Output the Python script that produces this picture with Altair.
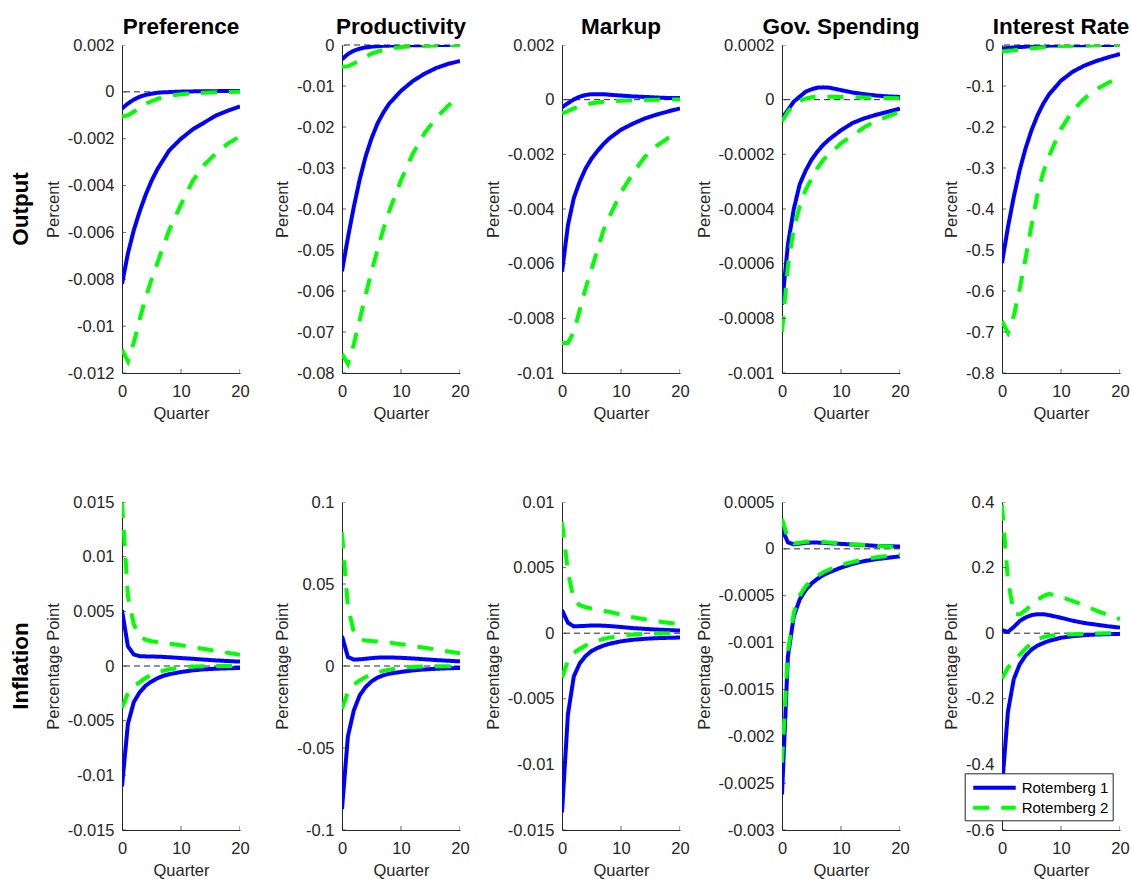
import altair as alt
import pandas as pd

FONT = "Liberation Sans"

QUARTERS = [0, 1, 2, 3, 4, 5, 6, 7, 8, 10, 12, 14, 16, 18, 20]
X_TICKS = [0, 10, 20]
SHOCKS = ["Preference", "Productivity", "Markup", "Gov. Spending", "Interest Rate"]
ROW_LABELS = ["Output", "Inflation"]
Y_TITLES = ["Percent", "Percentage Point"]
MODELS = ["Rotemberg 1", "Rotemberg 2"]
COLORS = ["#0000ff", "#00ff00"]

# ---------------- Output ----------------
PREF_OUT_R1_UP = [-0.00071, -0.0005, -0.00033, -0.00021, -0.00013, -0.00008, -0.00004, -0.00002, -0.00001, 0.00001, 0.00002, 0.00003, 0.00003, 0.00004, 0.00004]
PREF_OUT_R1_LO = [-0.0082, -0.0069, -0.0059, -0.0051, -0.0044, -0.0038, -0.0033, -0.0029, -0.0025, -0.0020, -0.0016, -0.0013, -0.0010, -0.0008, -0.00062]
PREF_OUT_R2_UP = [-0.00105, -0.001, -0.00085, -0.00066, -0.00051, -0.0004, -0.0003, -0.00023, -0.00017, -0.0001, -0.00006, -0.00004, -0.00002, -0.00001, 0.0]
PREF_OUT_R2_LO = [-0.0110, -0.0115, -0.0107, -0.0097, -0.0088, -0.0080, -0.0073, -0.0066, -0.0059, -0.0048, -0.0038, -0.0031, -0.0026, -0.0022, -0.0019]
PREF_OUT_TICKS = [-0.012, -0.01, -0.008, -0.006, -0.004, -0.002, 0, 0.002]

PROD_OUT_R1_UP = [-0.0035, -0.0022, -0.0014, -0.0009, -0.0006, -0.0004, -0.0003, -0.0002, -0.00015, -0.0001, -0.00006, -0.00004, -0.00002, -0.00001, 0.0]
PROD_OUT_R1_LO = [-0.0552, -0.0470, -0.0395, -0.0328, -0.0272, -0.0228, -0.0192, -0.0165, -0.0143, -0.0112, -0.0088, -0.0070, -0.0056, -0.0046, -0.0039]
PROD_OUT_R2_UP = [-0.0053, -0.0052, -0.0045, -0.0037, -0.0029, -0.0021, -0.0016, -0.0012, -0.0009, -0.0005, -0.0003, -0.0002, -0.0001, -0.00005, 0.0]
PROD_OUT_R2_LO = [-0.0753, -0.0778, -0.0730, -0.0670, -0.0610, -0.0553, -0.0500, -0.0450, -0.0405, -0.0330, -0.0265, -0.0215, -0.0177, -0.0148, -0.0125]
PROD_OUT_TICKS = [-0.08, -0.07, -0.06, -0.05, -0.04, -0.03, -0.02, -0.01, 0]

MARK_OUT_R1_UP = [-0.00028, -0.00013, 0.00001, 0.00011, 0.00017, 0.0002, 0.0002, 0.0002, 0.00018, 0.00015, 0.00012, 0.0001, 0.00008, 0.00006, 0.00006]
MARK_OUT_R1_LO = [-0.0063, -0.0046, -0.0036, -0.0030, -0.00252, -0.00216, -0.00188, -0.00163, -0.00142, -0.0011, -0.00088, -0.00069, -0.00055, -0.00043, -0.00032]
MARK_OUT_R2_UP = [-0.0005, -0.00042, -0.00032, -0.00024, -0.00018, -0.00013, -0.0001, -0.00008, -0.00006, -0.00004, -0.00002, -0.00001, 0.0, 0.00001, 0.00001]
MARK_OUT_R2_LO = [-0.0089, -0.0089, -0.0085, -0.0077, -0.0069, -0.0062, -0.0055, -0.0048, -0.0043, -0.0034, -0.0027, -0.0021, -0.0017, -0.0014, -0.0012]
MARK_OUT_TICKS = [-0.01, -0.008, -0.006, -0.004, -0.002, 0, 0.002]

GOV_OUT_R1_UP = [-0.000068, -0.000038, -0.000007, 0.000011, 0.000029, 0.000038, 0.000044, 0.000045, 0.000044, 0.000035, 0.000026, 0.00002, 0.000015, 0.000012, 0.00001]
GOV_OUT_R1_LO = [-0.00075, -0.00053, -0.00040, -0.00031, -0.00026, -0.00022, -0.00019, -0.000165, -0.000145, -0.000112, -0.000085, -0.000068, -0.000055, -0.000044, -0.000033]
GOV_OUT_R2_UP = [-0.00008, -0.000044, -0.00002, -0.000004, 0.000004, 0.000009, 0.000011, 0.000011, 0.000011, 0.00001, 0.000009, 0.000008, 0.000007, 0.000006, 0.000005]
GOV_OUT_R2_LO = [-0.00085, -0.00061, -0.00047, -0.00039, -0.00033, -0.00029, -0.00025, -0.00022, -0.00020, -0.00016, -0.00013, -0.00010, -0.000078, -0.00006, -0.000045]
GOV_OUT_TICKS = [-0.001, -0.0008, -0.0006, -0.0004, -0.0002, 0, 0.0002]

IR_OUT_R1_UP = [-0.009, -0.007, -0.006, -0.005, -0.004, -0.003, -0.0025, -0.002, -0.0015, -0.001, -0.0006, -0.0004, -0.0002, -0.0001, 0.0]
IR_OUT_R1_LO = [-0.532, -0.445, -0.370, -0.305, -0.252, -0.208, -0.172, -0.143, -0.120, -0.087, -0.065, -0.050, -0.039, -0.030, -0.022]
IR_OUT_R2_UP = [-0.016, -0.0145, -0.013, -0.011, -0.0095, -0.008, -0.0065, -0.0052, -0.0042, -0.0027, -0.0017, -0.001, -0.0006, -0.0003, -0.0002]
IR_OUT_R2_LO = [-0.673, -0.702, -0.660, -0.595, -0.520, -0.440, -0.365, -0.310, -0.270, -0.205, -0.160, -0.130, -0.108, -0.092, -0.080]
IR_OUT_TICKS = [-0.8, -0.7, -0.6, -0.5, -0.4, -0.3, -0.2, -0.1, 0]

# ---------------- Inflation ----------------
PREF_INF_R1_UP = [0.0051, 0.0018, 0.00105, 0.0009, 0.00088, 0.00087, 0.00085, 0.00083, 0.0008, 0.00073, 0.00066, 0.00058, 0.00051, 0.00045, 0.0004]
PREF_INF_R1_LO = [-0.0110, -0.0053, -0.0033, -0.0024, -0.0018, -0.00142, -0.00112, -0.0009, -0.00075, -0.00055, -0.0004, -0.0003, -0.00025, -0.00021, -0.00018]
PREF_INF_R2_UP = [0.0150, 0.0064, 0.0038, 0.0027, 0.0024, 0.00227, 0.0022, 0.00213, 0.00205, 0.0019, 0.00172, 0.00155, 0.00138, 0.0012, 0.00102]
PREF_INF_R2_LO = [-0.00385, -0.00248, -0.00187, -0.00147, -0.0011, -0.0008, -0.00058, -0.00043, -0.0003, -0.00013, -0.00005, -0.00002, -0.00001, 0.0, 0.0]
PREF_INF_TICKS = [-0.015, -0.01, -0.005, 0, 0.005, 0.01, 0.015]

PROD_INF_R1_UP = [0.0183, 0.0055, 0.0039, 0.0041, 0.0044, 0.0048, 0.0051, 0.0052, 0.0052, 0.0050, 0.0046, 0.0041, 0.0036, 0.0032, 0.0028]
PROD_INF_R1_LO = [-0.0872, -0.043, -0.0271, -0.0179, -0.0128, -0.0094, -0.0071, -0.0057, -0.0047, -0.0036, -0.0027, -0.0021, -0.0017, -0.0014, -0.0012]
PROD_INF_R2_UP = [0.0815, 0.036, 0.0208, 0.0165, 0.0155, 0.0152, 0.0150, 0.0147, 0.0143, 0.0133, 0.0122, 0.0111, 0.0100, 0.0089, 0.0078]
PROD_INF_R2_LO = [-0.0261, -0.0159, -0.0114, -0.0088, -0.0067, -0.0051, -0.0039, -0.003, -0.0022, -0.0012, -0.0006, -0.0003, -0.0002, -0.0001, 0.0]
PROD_INF_TICKS = [-0.1, -0.05, 0, 0.05, 0.1]

MARK_INF_R1_UP = [0.00176, 0.0008, 0.00052, 0.00054, 0.00056, 0.00059, 0.00059, 0.00057, 0.00055, 0.00047, 0.00039, 0.00033, 0.00028, 0.00024, 0.0002]
MARK_INF_R1_LO = [-0.01366, -0.0062, -0.0033, -0.0023, -0.00174, -0.00136, -0.00113, -0.00095, -0.00081, -0.00062, -0.0005, -0.00043, -0.00038, -0.00035, -0.00033]
MARK_INF_R2_UP = [0.0085, 0.0047, 0.0025, 0.00214, 0.00198, 0.00188, 0.0018, 0.0017, 0.00163, 0.00142, 0.00122, 0.00106, 0.00092, 0.0008, 0.00069]
MARK_INF_R2_LO = [-0.00339, -0.0021, -0.0015, -0.0012, -0.00094, -0.00072, -0.00056, -0.00044, -0.00034, -0.00019, -0.0001, -0.00006, -0.00003, -0.00001, 0.0]
MARK_INF_TICKS = [-0.015, -0.01, -0.005, 0, 0.005, 0.01]

GOV_INF_R1_UP = [0.00021, 0.00007, 0.000048, 0.000056, 0.000064, 0.000067, 0.000067, 0.000065, 0.00006, 0.000053, 0.000046, 0.00004, 0.000032, 0.000028, 0.000025]
GOV_INF_R1_LO = [-0.00262, -0.00115, -0.00072, -0.00054, -0.00044, -0.00037, -0.00032, -0.00028, -0.00025, -0.0002, -0.00016, -0.00013, -0.00011, -0.000095, -0.00008]
GOV_INF_R2_UP = [0.00032, 0.00011, 0.000057, 0.000064, 0.000075, 0.000078, 0.000076, 0.000072, 0.000068, 0.000057, 0.000046, 0.00004, 0.000032, 0.000025, 0.000018]
GOV_INF_R2_LO = [-0.00228, -0.0011, -0.00068, -0.0005, -0.0004, -0.00034, -0.00029, -0.00025, -0.00022, -0.00017, -0.00014, -0.00011, -0.00009, -0.000075, -0.00006]
GOV_INF_TICKS = [-0.003, -0.0025, -0.002, -0.0015, -0.001, -0.0005, 0, 0.0005]

IR_INF_R1_UP = [0.009, 0.004, 0.019, 0.037, 0.048, 0.055, 0.058, 0.058, 0.055, 0.047, 0.038, 0.031, 0.026, 0.021, 0.017]
IR_INF_R1_LO = [-0.47, -0.24, -0.14, -0.095, -0.068, -0.05, -0.038, -0.03, -0.023, -0.014, -0.009, -0.006, -0.004, -0.003, -0.002]
IR_INF_R2_UP = [0.392, 0.162, 0.06, 0.057, 0.07, 0.086, 0.101, 0.113, 0.12, 0.111, 0.098, 0.084, 0.069, 0.055, 0.043]
IR_INF_R2_LO = [-0.139, -0.105, -0.085, -0.066, -0.047, -0.031, -0.019, -0.012, -0.008, -0.005, -0.003, -0.002, -0.001, -0.0005, 0.0]
IR_INF_TICKS = [-0.6, -0.4, -0.2, 0, 0.2, 0.4]

PANELS = [
    [
        (PREF_OUT_R1_UP, PREF_OUT_R1_LO, PREF_OUT_R2_UP, PREF_OUT_R2_LO, PREF_OUT_TICKS),
        (PROD_OUT_R1_UP, PROD_OUT_R1_LO, PROD_OUT_R2_UP, PROD_OUT_R2_LO, PROD_OUT_TICKS),
        (MARK_OUT_R1_UP, MARK_OUT_R1_LO, MARK_OUT_R2_UP, MARK_OUT_R2_LO, MARK_OUT_TICKS),
        (GOV_OUT_R1_UP, GOV_OUT_R1_LO, GOV_OUT_R2_UP, GOV_OUT_R2_LO, GOV_OUT_TICKS),
        (IR_OUT_R1_UP, IR_OUT_R1_LO, IR_OUT_R2_UP, IR_OUT_R2_LO, IR_OUT_TICKS),
    ],
    [
        (PREF_INF_R1_UP, PREF_INF_R1_LO, PREF_INF_R2_UP, PREF_INF_R2_LO, PREF_INF_TICKS),
        (PROD_INF_R1_UP, PROD_INF_R1_LO, PROD_INF_R2_UP, PROD_INF_R2_LO, PROD_INF_TICKS),
        (MARK_INF_R1_UP, MARK_INF_R1_LO, MARK_INF_R2_UP, MARK_INF_R2_LO, MARK_INF_TICKS),
        (GOV_INF_R1_UP, GOV_INF_R1_LO, GOV_INF_R2_UP, GOV_INF_R2_LO, GOV_INF_TICKS),
        (IR_INF_R1_UP, IR_INF_R1_LO, IR_INF_R2_UP, IR_INF_R2_LO, IR_INF_TICKS),
    ],
]

W, H = 118, 328
AXIS_COLOR = "#262626"
LABEL_EXPR = "replace(format(datum.value, '~g'), '\u2212', '-')"

LEGEND = alt.Legend(
    orient="none", legendX=842.7, legendY=728.3, title=None, direction="vertical",
    fillColor="white", strokeColor=AXIS_COLOR, padding=4,
    symbolType="M-0.7,0H4.3", symbolSize=289, symbolStrokeWidth=4,
    labelFont=FONT, labelFontSize=15, labelColor="black", labelOffset=32, rowPadding=1,
)


def make_panel(r, c):
    r1u, r1l, r2u, r2l, yticks = PANELS[r][c]
    recs = []
    for model, bound, vals in [
        (MODELS[0], "upper", r1u), (MODELS[0], "lower", r1l),
        (MODELS[1], "upper", r2u), (MODELS[1], "lower", r2l),
    ]:
        for q, v in zip(QUARTERS, vals):
            recs.append({"q": q, "v": v, "model": model, "series": model + " " + bound})
    df = pd.DataFrame(recs)
    ymin, ymax = min(yticks), max(yticks)
    xs = alt.Scale(domain=[0, 20], nice=False, zero=False)
    ys = alt.Scale(domain=[ymin, ymax], nice=False, zero=False)
    xaxis = alt.Axis(values=X_TICKS, title="Quarter", grid=False, ticks=False, tickSize=0,
                     labelFlush=False, labelOverlap=False, labelPadding=10.5, titlePadding=5)
    yaxis = alt.Axis(values=yticks, title=Y_TITLES[r], grid=False, ticks=False, tickSize=0,
                     labelFlush=False, labelOverlap=False, labelExpr=LABEL_EXPR,
                     labelPadding=8, titlePadding=6)
    X = alt.X("q:Q", scale=xs, axis=xaxis)
    Y = alt.Y("v:Q", scale=ys, axis=yaxis)

    lines = alt.Chart(df).mark_line(strokeWidth=4, clip=True).encode(
        x=X, y=Y,
        color=alt.Color("model:N", scale=alt.Scale(domain=MODELS, range=COLORS), legend=LEGEND),
        strokeDash=alt.StrokeDash("model:N", scale=alt.Scale(domain=MODELS, range=[[1, 0], [16, 12]]), legend=LEGEND),
        detail="series:N",
    )

    zero = alt.Chart(pd.DataFrame({"v": [0.0]})).mark_rule(
        color=AXIS_COLOR, strokeWidth=1, strokeDash=[6, 4]
    ).encode(y=Y)

    ytick = alt.Chart(pd.DataFrame({"v": yticks, "q": [0] * len(yticks)})).mark_tick(
        orient="horizontal", size=8, thickness=1, color=AXIS_COLOR, clip=True
    ).encode(x=X, y=Y)
    xtick = alt.Chart(pd.DataFrame({"q": X_TICKS, "v": [ymin] * len(X_TICKS)})).mark_tick(
        orient="vertical", size=8, thickness=1, color=AXIS_COLOR, clip=True
    ).encode(x=X, y=Y)

    layers = [zero, lines, ytick, xtick]
    if c == 0:
        lab = alt.Chart(pd.DataFrame({"t": [ROW_LABELS[r]]})).mark_text(
            angle=270, font=FONT, fontSize=22.5, fontWeight="bold", color="black",
            align="center", baseline="middle"
        ).encode(text="t:N", x=alt.value(-101), y=alt.value(H / 2))
        layers.append(lab)
    if r == 0:
        ttl = alt.Chart(pd.DataFrame({"t": [SHOCKS[c]]})).mark_text(
            font=FONT, fontSize=22.5, fontWeight="bold", color="black",
            align="center", baseline="alphabetic"
        ).encode(text="t:N", x=alt.value(W / 2), y=alt.value(-11.5))
        layers.append(ttl)
    return alt.layer(*layers).properties(width=W, height=H)


panels = [make_panel(r, c) for r in range(2) for c in range(5)]

chart = alt.concat(
    *panels, columns=5, spacing={"row": 129, "column": 102}, bounds="flush"
).properties(
    padding={"left": 10, "top": 15, "right": 0, "bottom": 0}
).configure_view(stroke=None).configure_axis(
    labelFont=FONT, titleFont=FONT, labelFontSize=16.5, titleFontSize=16.5,
    labelColor=AXIS_COLOR, titleColor=AXIS_COLOR, titleFontWeight="normal",
    domainColor=AXIS_COLOR, domainWidth=1,
)

chart.save("out.html", embed_options={"renderer": "svg", "actions": False})
